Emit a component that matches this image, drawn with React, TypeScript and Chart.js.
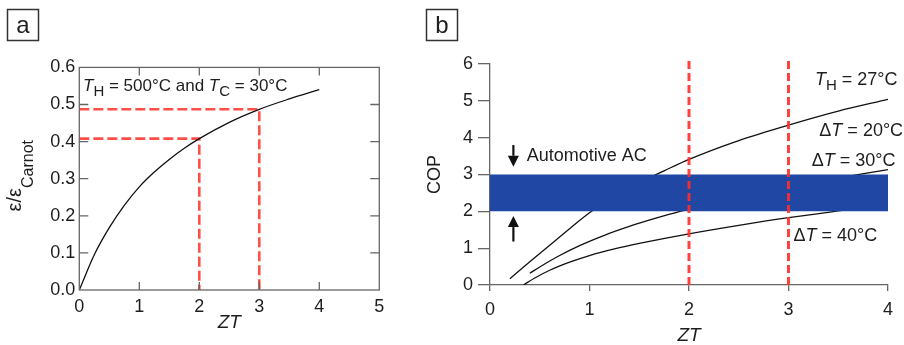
import React, { useEffect, useRef } from "react";
import { Chart, registerables } from "chart.js";
Chart.register(...registerables);

const FONT = '"Liberation Sans", Arial, Helvetica, sans-serif';
const TXT = "#1e1e1e";
const AXIS = "#666";
const TICK_SIZE = 18;

// ---------- Panel a data ----------
const ztA = [0, 0.25, 0.5, 0.75, 1, 1.25, 1.5, 1.75, 2, 2.5, 3, 3.5, 4];
const effA = [0, 0.095, 0.168, 0.228, 0.278, 0.318, 0.352, 0.382, 0.408, 0.452, 0.487, 0.515, 0.54];
const markZT = [2, 3];
const markEff = [0.408, 0.487];
const xTicksA = [0, 1, 2, 3, 4, 5];
const yTicksA = [0, 0.1, 0.2, 0.3, 0.4, 0.5, 0.6];

// ---------- Panel b data ----------
const zt20 = [0.2, 0.4, 0.6, 0.8, 1.0, 1.25, 1.5, 1.75, 2.0, 2.5, 3.0, 3.5, 4.0];
const cop20 = [0.17, 0.63, 1.08, 1.53, 1.96, 2.42, 2.78, 3.1, 3.41, 3.92, 4.34, 4.72, 5.04];
const zt30 = [0.4, 0.5, 0.7, 0.9, 1.15, 1.4, 1.65, 1.91, 2.5, 3.0, 3.5, 4.0];
const cop30 = [0.32, 0.49, 0.8, 1.07, 1.35, 1.59, 1.8, 2.0, 2.38, 2.67, 2.91, 3.13];
const zt40 = [0.335, 0.45, 0.6, 0.8, 1.0, 1.25, 1.5, 2.0, 2.5, 3.0, 3.5, 4.0];
const cop40 = [0, 0.19, 0.4, 0.62, 0.8, 0.98, 1.13, 1.39, 1.62, 1.83, 2.01, 2.18];
const acBand = [2, 3]; // automotive AC COP range
const bandZT = [0, 4];
const bMarks = [2, 3];
const bMarkTop = 6.08;

type Part = { t: string; it?: boolean; sub?: boolean };

function drawRich(
  ctx: CanvasRenderingContext2D,
  x: number,
  y: number,
  parts: Part[],
  size: number,
  subSize: number,
  subOff: number,
  align: "left" | "center" = "left"
) {
  const f = (p: Part) => `${p.it ? "italic " : ""}${p.sub ? subSize : size}px ${FONT}`;
  let w = 0;
  for (const p of parts) {
    ctx.font = f(p);
    w += ctx.measureText(p.t).width;
  }
  let cx = align === "center" ? x - w / 2 : x;
  ctx.textAlign = "left";
  ctx.textBaseline = "alphabetic";
  for (const p of parts) {
    ctx.font = f(p);
    ctx.fillText(p.t, cx, p.sub ? y + subOff : y);
    cx += ctx.measureText(p.t).width;
  }
}

function drawBox(ctx: CanvasRenderingContext2D, x: number, y: number, w: number, h: number, label: string, baseY: number) {
  ctx.save();
  ctx.strokeStyle = "#333";
  ctx.lineWidth = 1.5;
  ctx.strokeRect(x, y, w, h);
  ctx.fillStyle = TXT;
  ctx.font = `24px ${FONT}`;
  ctx.textAlign = "center";
  ctx.textBaseline = "alphabetic";
  ctx.fillText(label, x + w / 2, baseY);
  ctx.restore();
}

function drawArrow(ctx: CanvasRenderingContext2D, x: number, tail: number, tip: number) {
  const dir = tip > tail ? 1 : -1;
  const headLen = 11;
  ctx.save();
  ctx.strokeStyle = "#111";
  ctx.fillStyle = "#111";
  ctx.lineWidth = 2.2;
  ctx.beginPath();
  ctx.moveTo(x, tail);
  ctx.lineTo(x, tip - dir * headLen);
  ctx.stroke();
  ctx.beginPath();
  ctx.moveTo(x, tip);
  ctx.lineTo(x - 5.5, tip - dir * headLen);
  ctx.lineTo(x + 5.5, tip - dir * headLen);
  ctx.closePath();
  ctx.fill();
  ctx.restore();
}

const pts = (xs: number[], ys: number[]) => xs.map((x, i) => ({ x, y: ys[i] }));

function configA(): any {
  const plugin = {
    id: "panelA",
    afterDraw(chart: any) {
      const ctx: CanvasRenderingContext2D = chart.ctx;
      const { left, right, top, bottom } = chart.chartArea;
      const xs = chart.scales.x;
      const ys = chart.scales.y;
      ctx.save();
      ctx.strokeStyle = AXIS;
      ctx.lineWidth = 1.3;
      ctx.strokeRect(left, top, right - left, bottom - top);
      ctx.beginPath();
      for (const v of xTicksA) {
        if (v <= xs.min || v >= xs.max) continue;
        const px = xs.getPixelForValue(v);
        ctx.moveTo(px, top);
        ctx.lineTo(px, top + 8);
        ctx.moveTo(px, bottom);
        ctx.lineTo(px, bottom - 8);
      }
      for (const v of yTicksA) {
        if (v <= ys.min || v >= ys.max) continue;
        const py = ys.getPixelForValue(v);
        ctx.moveTo(left, py);
        ctx.lineTo(left + 9, py);
        ctx.moveTo(right, py);
        ctx.lineTo(right - 9, py);
      }
      ctx.stroke();
      ctx.fillStyle = TXT;
      // annotation
      drawRich(
        ctx,
        xs.getPixelForValue(0.062),
        ys.getPixelForValue(0.536),
        [
          { t: "T", it: true },
          { t: "H", sub: true },
          { t: " = 500°C and " },
          { t: "T", it: true },
          { t: "C", sub: true },
          { t: " = 30°C" },
        ],
        17,
        15,
        5
      );
      // x title
      ctx.font = `italic 19px ${FONT}`;
      ctx.textAlign = "center";
      ctx.fillText("ZT", (left + right) / 2, 328);
      // y title
      ctx.save();
      ctx.translate(21, (top + bottom) / 2 - 3);
      ctx.rotate(-Math.PI / 2);
      drawRich(ctx, 0, 0, [{ t: "ε/ε" }, { t: "Carnot", sub: true }], 20, 16, 12, "center");
      ctx.restore();
      ctx.restore();
      drawBox(ctx, 7.5, 9.5, 31, 31, "a", 33);
    },
  };
  const red = "rgba(255,55,45,0.88)";
  const dashed = markZT.map((z, i) => ({
    data: [
      { x: 0, y: markEff[i] },
      { x: z, y: markEff[i] },
      { x: z, y: 0 },
    ],
    borderColor: red,
    borderWidth: 2.6,
    borderDash: [10, 4],
    pointRadius: 0,
    fill: false,
    order: 1,
  }));
  return {
    type: "line",
    data: {
      datasets: [
        {
          data: pts(ztA, effA),
          borderColor: "#111",
          borderWidth: 1.3,
          pointRadius: 0,
          cubicInterpolationMode: "monotone",
          fill: false,
          order: 0,
        },
        ...dashed,
      ],
    },
    options: {
      responsive: false,
      animation: false,
      events: [],
      layout: { padding: { left: 0, top: 67.4, right: 40.7, bottom: 0 } },
      plugins: { legend: { display: false }, tooltip: { enabled: false } },
      scales: {
        x: {
          type: "linear",
          min: 0,
          max: 5,
          afterBuildTicks: (s: any) => {
            s.ticks = xTicksA.map((v) => ({ value: v }));
          },
          ticks: { font: { family: FONT, size: TICK_SIZE }, color: TXT, padding: 6, maxRotation: 0, autoSkip: false },
          grid: { display: false, drawTicks: false },
          border: { display: false },
          afterFit: (s: any) => {
            s.height = 55;
          },
        },
        y: {
          type: "linear",
          min: 0,
          max: 0.6,
          afterBuildTicks: (s: any) => {
            s.ticks = yTicksA.map((v) => ({ value: v }));
          },
          ticks: {
            font: { family: FONT, size: TICK_SIZE },
            color: TXT,
            padding: 4,
            callback: (v: any) => Number(v).toFixed(1),
          },
          grid: { display: false, drawTicks: false },
          border: { display: false },
          afterFit: (s: any) => {
            s.width = 79.3;
          },
        },
      },
    },
    plugins: [plugin],
  };
}

function configB(): any {
  const plugin = {
    id: "panelB",
    afterDraw(chart: any) {
      const ctx: CanvasRenderingContext2D = chart.ctx;
      const { left, right, top, bottom } = chart.chartArea;
      const xs = chart.scales.x;
      const ys = chart.scales.y;
      ctx.save();
      ctx.fillStyle = TXT;
      const X = (v: number) => xs.getPixelForValue(v);
      const Y = (v: number) => ys.getPixelForValue(v);
      drawArrow(ctx, X(0.235), Y(3.8), Y(3.21));
      drawArrow(ctx, X(0.235), Y(1.18), Y(1.87));
      ctx.fillStyle = TXT;
      ctx.font = `18px ${FONT}`;
      ctx.textAlign = "left";
      ctx.textBaseline = "alphabetic";
      ctx.fillText("Automotive AC", X(0.369), Y(3.375));
      drawRich(ctx, X(3.266), Y(5.43), [{ t: "T", it: true }, { t: "H", sub: true }, { t: " = 27°C" }], 18, 15, 5);
      drawRich(ctx, X(3.31), Y(4.05), [{ t: "Δ" }, { t: "T", it: true }, { t: " = 20°C" }], 18, 15, 5);
      drawRich(ctx, X(3.233), Y(3.23), [{ t: "Δ" }, { t: "T", it: true }, { t: " = 30°C" }], 18, 15, 5);
      drawRich(ctx, X(3.05), Y(1.2), [{ t: "Δ" }, { t: "T", it: true }, { t: " = 40°C" }], 18, 15, 5);
      // titles
      ctx.font = `italic 19px ${FONT}`;
      ctx.textAlign = "center";
      ctx.fillText("ZT", (left + right) / 2, 341);
      ctx.save();
      ctx.translate(20, (top + bottom) / 2);
      ctx.rotate(-Math.PI / 2);
      ctx.font = `18px ${FONT}`;
      ctx.textAlign = "center";
      ctx.fillText("COP", 0, 0);
      ctx.restore();
      ctx.restore();
      drawBox(ctx, 6.5, 9.5, 31, 31, "b", 33);
    },
  };
  const red = "rgba(255,45,40,0.9)";
  const curve = (xs: number[], ys: number[]) => ({
    data: pts(xs, ys),
    borderColor: "#111",
    borderWidth: 1.3,
    pointRadius: 0,
    cubicInterpolationMode: "monotone",
    fill: false,
    order: 2,
  });
  return {
    type: "line",
    data: {
      datasets: [
        curve(zt20, cop20),
        curve(zt30, cop30),
        curve(zt40, cop40),
        {
          data: bandZT.map((x) => ({ x, y: acBand[1] })),
          borderWidth: 0,
          borderColor: "rgba(0,0,0,0)",
          backgroundColor: "#1f47a3",
          pointRadius: 0,
          fill: { value: acBand[0] },
          order: 1,
        },
        ...bMarks.map((m) => ({
          data: [
            { x: m, y: 0 },
            { x: m, y: bMarkTop },
          ],
          borderColor: red,
          borderWidth: 3,
          borderDash: [8, 4],
          pointRadius: 0,
          fill: false,
          clip: 8,
          order: 0,
        })),
      ],
    },
    options: {
      responsive: false,
      animation: false,
      events: [],
      layout: { padding: { left: 0, top: 64, right: 16, bottom: 0 } },
      plugins: { legend: { display: false }, tooltip: { enabled: false } },
      scales: {
        x: {
          type: "linear",
          min: 0,
          max: 4,
          ticks: { stepSize: 1, font: { family: FONT, size: TICK_SIZE }, color: TXT, padding: 8, maxRotation: 0 },
          grid: { drawOnChartArea: false, drawTicks: true, tickLength: 6, color: AXIS, lineWidth: 1.3 },
          border: { display: true, color: AXIS, width: 1.3 },
          afterFit: (s: any) => {
            s.height = 60;
          },
        },
        y: {
          type: "linear",
          min: 0,
          max: 6,
          ticks: { stepSize: 1, font: { family: FONT, size: TICK_SIZE }, color: TXT, padding: 5 },
          grid: { drawOnChartArea: false, drawTicks: true, tickLength: 12, color: AXIS, lineWidth: 1.3 },
          border: { display: true, color: AXIS, width: 1.3 },
          afterFit: (s: any) => {
            s.width = 70;
          },
        },
      },
    },
    plugins: [plugin],
  };
}

export default function App() {
  const refA = useRef<HTMLCanvasElement>(null);
  const refB = useRef<HTMLCanvasElement>(null);
  useEffect(() => {
    const a = new Chart(refA.current as HTMLCanvasElement, configA());
    const b = new Chart(refB.current as HTMLCanvasElement, configB());
    return () => {
      a.destroy();
      b.destroy();
    };
  }, []);
  return (
    <div style={{ position: "fixed", left: 0, top: 0, width: 904, height: 345, background: "#fff" }}>
      <canvas ref={refA} width={420} height={345} style={{ position: "absolute", left: 0, top: 0, display: "block" }} />
      <canvas ref={refB} width={484} height={345} style={{ position: "absolute", left: 420, top: 0, display: "block" }} />
    </div>
  );
}
